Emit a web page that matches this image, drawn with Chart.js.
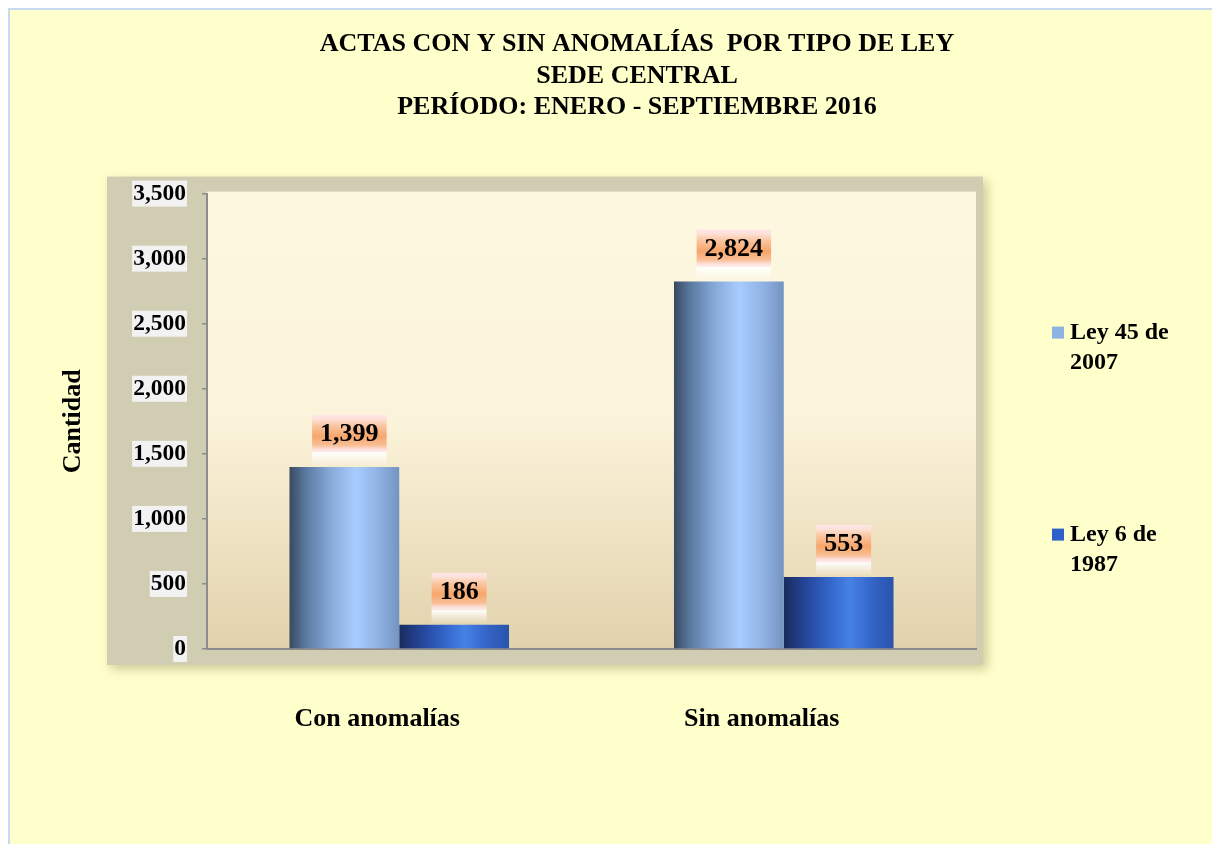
<!DOCTYPE html>
<html>
<head>
<meta charset="utf-8">
<title>Actas con y sin anomalías por tipo de ley</title>
<script src="https://cdn.jsdelivr.net/npm/chart.js@4.4.1/dist/chart.umd.min.js"></script>
<style>
  html, body { margin: 0; padding: 0; background: #fff; overflow: hidden; }
  #sheet {
    position: absolute; left: 8px; top: 8px; width: 1204px; height: 836px;
    background: #ffffcc; border-left: 2px solid #c6d9f1; border-top: 2px solid #c6d9f1;
  }
  #wrap { position: absolute; left: 0; top: 0; width: 1212px; height: 844px; overflow: hidden; }
</style>
</head>
<body>
<div id="sheet"></div>
<div id="wrap"><canvas id="chart" width="1216" height="844"></canvas></div>
<script>
// Data
const titleLines = ["ACTAS CON Y SIN ANOMALÍAS  POR TIPO DE LEY", "SEDE CENTRAL", "PERÍODO: ENERO - SEPTIEMBRE 2016"];
const categories = ["Con anomalías", "Sin anomalías"];
const seriesNames = ["Ley 45 de 2007", "Ley 6 de 1987"];
const ley45Values = [1399, 2824];
const ley6Values = [186, 553];
const yAxisTitle = "Cantidad";
const yMax = 3500;
const yStep = 500;

const FONT = '"Liberation Serif", "Times New Roman", serif';
const CAT_PCT = 0.571;

// cylinder-like horizontal shading for each series
const ley45Stops = [[0, "#39495f"], [0.15, "#5b7aa2"], [0.38, "#88abda"], [0.6, "#a8ccff"], [0.82, "#8fb1e2"], [1, "#7394c2"]];
const ley6Stops = [[0, "#1a2c5c"], [0.2, "#25459a"], [0.4, "#3263c6"], [0.6, "#4781e8"], [0.82, "#3262c4"], [1, "#2a54ac"]];
const legendColors = ["#8db3e2", "#2f60ca"];

function barFill(stops) {
  return function (ctx) {
    const chart = ctx.chart;
    if (ctx.type !== "data" || !chart.chartArea || !chart.scales.x) return stops[3][1];
    const xs = chart.scales.x;
    const n = chart.data.datasets.length;
    const catW = (xs.right - xs.left) / chart.data.labels.length;
    const barW = (catW * CAT_PCT) / n;
    const left = xs.getPixelForValue(ctx.dataIndex) - (barW * n) / 2 + barW * ctx.datasetIndex;
    const g = chart.ctx.createLinearGradient(left, 0, left + barW, 0);
    stops.forEach((s) => g.addColorStop(s[0], s[1]));
    return g;
  };
}

function fmt(v) {
  return Number(v).toLocaleString("en-US");
}

function wrapName(name) {
  const cut = name.lastIndexOf(" ");
  return [name.slice(0, cut), name.slice(cut + 1)];
}

// Plot frame, plot-area shading and the grey boxes behind y tick labels
const backdrop = {
  id: "backdrop",
  beforeDraw(chart) {
    const ctx = chart.ctx;
    const a = chart.chartArea;
    ctx.save();
    ctx.shadowColor = "rgba(110,100,50,0.35)";
    ctx.shadowBlur = 10;
    ctx.shadowOffsetX = 4;
    ctx.shadowOffsetY = 4;
    ctx.fillStyle = "#d1cdb2";
    ctx.fillRect(a.left - 100, a.top - 17, a.right - a.left + 107, a.bottom - a.top + 33);
    ctx.restore();

    const g = ctx.createLinearGradient(0, a.top, 0, a.bottom);
    g.addColorStop(0, "#fef8e1");
    g.addColorStop(0.5, "#fbf3da");
    g.addColorStop(1, "#e2d2ac");
    ctx.fillStyle = g;
    ctx.fillRect(a.left, a.top - 2, a.right - a.left, a.bottom - a.top + 2);

    const ys = chart.scales.y;
    ctx.save();
    ctx.font = "bold 23.5px " + FONT;
    const labelRight = ys.right - 5 - 16;
    ys.ticks.forEach((t) => {
      const y = ys.getPixelForValue(t.value);
      const w = ctx.measureText(t.label).width;
      ctx.fillStyle = "#f2f2f2";
      ctx.fillRect(labelRight - w - 1, y - 13, w + 2, 26);
    });
    ctx.restore();
  },
};

// Orange value boxes above each bar
const valueBoxes = {
  id: "valueBoxes",
  afterDatasetsDraw(chart) {
    const ctx = chart.ctx;
    ctx.save();
    ctx.font = "bold 26px " + FONT;
    chart.data.datasets.forEach((ds, di) => {
      chart.getDatasetMeta(di).data.forEach((bar, i) => {
        const text = fmt(ds.data[i]);
        const w = ctx.measureText(text).width + 16;
        const h = 37;
        const cx = bar.x + 5;
        const bottom = bar.y - 15;
        const top = bottom - h;

        const glow = ctx.createLinearGradient(0, bottom, 0, bottom + 14);
        glow.addColorStop(0, "rgba(255,255,255,0.95)");
        glow.addColorStop(1, "rgba(255,255,255,0)");
        ctx.fillStyle = glow;
        ctx.fillRect(cx - w / 2, bottom, w, 14);

        const g = ctx.createLinearGradient(0, top, 0, bottom);
        g.addColorStop(0, "#fde6ea");
        g.addColorStop(0.12, "#fde0d6");
        g.addColorStop(0.3, "#fac49e");
        g.addColorStop(0.58, "#f7a66b");
        g.addColorStop(0.82, "#f9bf96");
        g.addColorStop(0.93, "#fde0dc");
        g.addColorStop(1, "#fdeaea");
        ctx.fillStyle = g;
        ctx.fillRect(cx - w / 2, top, w, h);

        ctx.fillStyle = "#000";
        ctx.textAlign = "center";
        ctx.textBaseline = "middle";
        ctx.fillText(text, cx, top + h / 2 + 1);
      });
    });
    ctx.restore();
  },
};

// Legend at the right, two-line names, spread out like the original
const sideLegend = {
  id: "sideLegend",
  afterDraw(chart) {
    const ctx = chart.ctx;
    const a = chart.chartArea;
    ctx.save();
    ctx.font = "bold 24px " + FONT;
    ctx.textBaseline = "middle";
    ctx.textAlign = "left";
    chart.data.datasets.forEach((ds, i) => {
      const x = a.right + 76;
      const y = a.top + 139 + i * 202;
      ctx.fillStyle = legendColors[i];
      ctx.fillRect(x, y - 6, 12, 12);
      ctx.fillStyle = "#000";
      wrapName(ds.label).forEach((line, k) => {
        ctx.fillText(line, x + 18, y + k * 30);
      });
    });
    ctx.restore();
  },
};

Chart.defaults.font.family = FONT;
Chart.defaults.color = "#000";

new Chart(document.getElementById("chart"), {
  type: "bar",
  data: {
    labels: categories,
    datasets: [
      { label: seriesNames[0], data: ley45Values, backgroundColor: barFill(ley45Stops), yAxisID: "y" },
      { label: seriesNames[1], data: ley6Values, backgroundColor: barFill(ley6Stops), yAxisID: "y" },
    ],
  },
  options: {
    responsive: false,
    animation: false,
    events: [],
    layout: { padding: { left: 58, right: 0, top: 0, bottom: 0 } },
    datasets: {
      bar: { barPercentage: 1, categoryPercentage: CAT_PCT, borderWidth: 0 },
    },
    plugins: {
      legend: { display: false },
      tooltip: { enabled: false },
      title: {
        display: true,
        text: titleLines,
        color: "#000",
        font: { size: 26, weight: "bold", lineHeight: 1.2 },
        padding: { top: 29, bottom: 71 },
      },
    },
    scales: {
      x: {
        grid: { display: false, drawTicks: false },
        border: { display: true, color: "#8c8c8c", width: 2 },
        ticks: {
          font: { size: 26, weight: "bold" },
          padding: 55,
          labelOffset: -22,
          maxRotation: 0,
        },
        afterFit(s) { s.height = 195; },
      },
      y: {
        min: 0,
        max: yMax,
        ticks: {
          stepSize: yStep,
          padding: 16,
          font: { size: 23.5, weight: "bold" },
          callback: (v) => fmt(v),
        },
        grid: { display: true, drawOnChartArea: false, drawTicks: true, tickLength: 5, color: "#8c8c8c", lineWidth: 1.5 },
        border: { display: true, color: "#8c8c8c", width: 2 },
        title: {
          display: true,
          text: yAxisTitle,
          font: { size: 26, weight: "bold" },
          padding: 0,
        },
        afterFit(s) { s.width = 149; },
      },
      // empty strip on the right that holds the legend
      side: {
        type: "linear",
        position: "right",
        display: true,
        grid: { display: false, drawTicks: false },
        border: { display: false },
        ticks: { display: false },
        afterFit(s) { s.width = 240; },
      },
    },
  },
  plugins: [backdrop, valueBoxes, sideLegend],
});
</script>
</body>
</html>
